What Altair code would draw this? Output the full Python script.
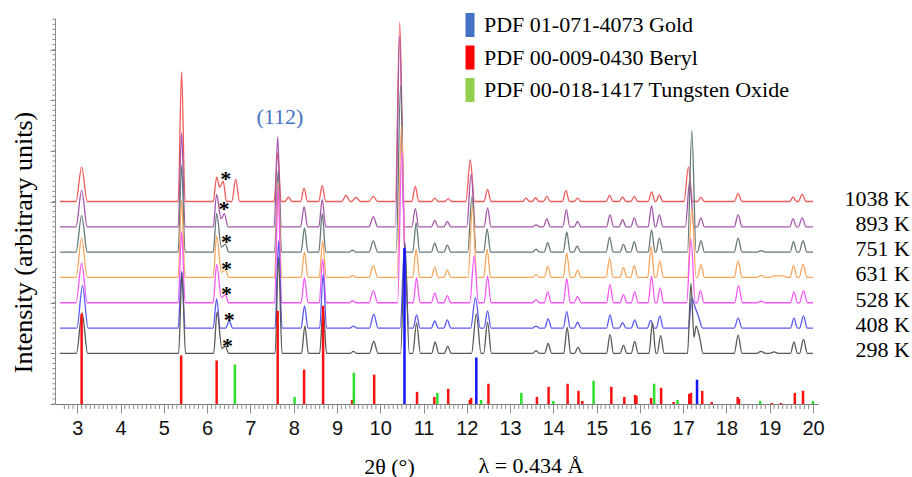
import altair as alt
import numpy as np
import pandas as pd

# ---- scan range / layout constants -------------------------------------
X_MIN, X_MAX = 2.6, 20.0
Y_MAX = 15250
HALF_WIDTH = 0.08          # default half base width of a peak (deg 2theta)

# ---- in-situ patterns: stacking offset, colour and peak list per temperature
TEMPS = ["1038 K", "893 K", "751 K", "631 K", "528 K", "408 K", "298 K"]
OFFSETS = [8000, 7000, 6000, 5000, 4000, 3000, 2000]
LINE_COLORS = ["#f15a5a", "#a457aa", "#667878", "#f6a65e", "#f658f6", "#5a5af2", "#585858"]

# [2theta, intensity above baseline, optional half width]
PEAKS_1038 = [
    [3.10, 1360, 0.13], [5.41, 5120], [6.22, 960], [6.29, 560], [6.37, 800], [6.66, 880, 0.09],
    [7.63, 1920], [7.88, 170], [8.24, 530], [8.66, 640], [9.21, 240, 0.1], [9.44, 160, 0.1],
    [9.84, 200, 0.1], [10.45, 7080, 0.1], [10.81, 600], [11.26, 130], [11.57, 110],
    [12.08, 1640, 0.1], [12.48, 480], [13.37, 130], [13.59, 150], [13.85, 200], [14.29, 440],
    [14.56, 130], [15.30, 240], [15.60, 170], [15.87, 200], [16.27, 380], [16.45, 260],
    [17.12, 1360, 0.1], [17.41, 160], [18.27, 310, 0.09], [19.54, 170], [19.75, 280, 0.09],
]
PEAKS_893 = [
    [3.10, 1440, 0.13], [5.41, 3720], [6.22, 1280], [6.32, 320], [6.40, 520], [7.63, 3560],
    [8.24, 800], [8.66, 1080], [9.84, 400, 0.1], [10.45, 7520, 0.1], [10.81, 720], [11.26, 250],
    [11.55, 210], [12.10, 2080, 0.1], [12.48, 750], [13.60, 80], [13.85, 310], [14.30, 680],
    [14.56, 210], [15.31, 480], [15.60, 280], [15.87, 350], [16.27, 840], [16.45, 480],
    [17.15, 1800, 0.1], [17.41, 350], [18.27, 480, 0.09], [19.54, 310], [19.75, 350, 0.09],
]
PEAKS_751 = [
    [3.10, 1440, 0.13], [5.41, 3440], [6.22, 1520], [6.33, 200], [6.42, 320], [7.64, 3200],
    [8.25, 960], [8.66, 1520], [9.36, 80], [9.84, 440, 0.1], [10.47, 6600, 0.1], [10.83, 1160],
    [11.26, 350], [11.55, 280], [12.12, 2200, 0.1], [12.47, 920], [13.60, 120], [13.87, 370],
    [14.31, 800], [14.55, 240], [15.30, 590], [15.62, 310], [15.87, 410], [16.27, 880],
    [16.45, 550], [17.20, 4800, 0.1], [17.41, 450], [18.27, 550, 0.09], [18.80, 60, 0.1],
    [19.55, 410], [19.77, 450, 0.09],
]
PEAKS_631 = [
    [3.10, 1560, 0.13], [5.41, 3040], [6.22, 1640], [6.33, 200], [6.42, 320], [7.64, 3800],
    [8.25, 1010], [8.67, 1440], [9.36, 80], [9.84, 480, 0.1], [10.49, 6000, 0.1], [10.83, 1120],
    [11.26, 410], [11.55, 290], [12.13, 2800, 0.1], [12.47, 1120], [13.60, 120], [13.87, 440],
    [14.31, 960], [14.56, 290], [15.30, 750], [15.62, 390], [15.87, 480], [16.26, 1230],
    [16.46, 650], [17.20, 2720, 0.1], [17.41, 520], [18.27, 650, 0.09], [18.80, 80, 0.1],
    [19.10, 60, 0.1], [19.30, 60, 0.1], [19.55, 480], [19.77, 520, 0.09],
]
PEAKS_528 = [
    [3.10, 1560, 0.13], [5.41, 2800], [6.22, 1520], [6.33, 200], [6.42, 320], [7.64, 4600],
    [8.25, 990], [8.67, 1720], [9.36, 80], [9.84, 480, 0.1], [10.50, 6000, 0.1], [10.84, 990],
    [11.26, 390], [11.55, 280], [12.17, 1840, 0.1], [12.48, 1050], [13.60, 120], [13.87, 440],
    [14.31, 950], [14.56, 250], [15.31, 720], [15.62, 320], [15.88, 440], [16.27, 1050],
    [16.47, 590], [17.18, 2520, 0.1], [17.40, 490], [18.28, 680, 0.09], [18.80, 60, 0.1],
    [19.56, 430], [19.78, 480, 0.09],
]
PEAKS_408 = [
    [3.12, 1680, 0.13], [5.41, 2240], [6.22, 1160], [6.51, 280], [7.65, 3440], [8.25, 880],
    [8.68, 2120], [9.38, 80], [9.85, 550, 0.1], [10.56, 3200, 0.1], [10.84, 520], [11.26, 280],
    [11.55, 320], [12.20, 1200, 0.11], [12.48, 680], [13.60, 80], [13.88, 360], [14.31, 650],
    [14.56, 230], [15.31, 520], [15.60, 210], [15.88, 320], [16.25, 300], [16.46, 480],
    [17.20, 1200], [17.27, 840], [17.35, 480, 0.1], [18.27, 390, 0.09], [19.56, 390],
    [19.78, 480, 0.09],
]
PEAKS_298 = [
    [3.11, 1600, 0.13], [5.42, 3200], [6.23, 1640], [6.34, 200], [6.42, 280], [7.65, 3800],
    [8.26, 1090], [8.68, 1800], [9.38, 80], [9.85, 480, 0.1], [10.57, 4400, 0.1],
    [10.84, 1200, 0.09], [11.27, 450], [11.56, 280], [12.22, 1560, 0.11], [12.48, 1230, 0.09],
    [13.60, 100], [13.88, 390], [14.32, 1030], [14.57, 250], [15.31, 750], [15.62, 320],
    [15.88, 470], [16.29, 1200], [16.48, 700], [17.18, 2760], [17.25, 630], [17.30, 1080],
    [17.38, 640], [18.27, 720, 0.09], [18.80, 80, 0.1], [19.10, 60, 0.1], [19.56, 450],
    [19.78, 550, 0.09],
]
PATTERNS = [PEAKS_1038, PEAKS_893, PEAKS_751, PEAKS_631, PEAKS_528, PEAKS_408, PEAKS_298]

# secondary-phase markers (asterisks) on each pattern
STAR_X = [6.43, 6.39, 6.45, 6.45, 6.45, 6.51, 6.47]
STAR_Y = [9080, 7890, 6610, 5530, 4530, 3520, 2500]

# ---- reference cards (stick patterns) ----------------------------------
PHASES = ["PDF 01-071-4073 Gold", "PDF 00-009-0430 Beryl", "PDF 00-018-1417 Tungsten Oxide"]
STICK_COLORS = ["#1414ff", "#ff1010", "#2ee02e"]
LEGEND_COLORS = ["#4472c4", "#ff0000", "#92d050"]

GOLD_POS = [10.56, 12.22, 17.32]
GOLD_INT = [6160, 1840, 960]
BERYL_POS = [3.10, 5.40, 6.22, 7.63, 8.24, 8.68, 9.35, 9.86, 10.85, 11.25, 11.57, 12.07,
             12.10, 12.50, 13.62, 13.89, 14.33, 14.58, 14.67, 15.34, 15.64, 15.89, 15.92,
             16.26, 16.49, 16.78, 17.14, 17.18, 17.44, 17.66, 18.26, 18.29, 19.05, 19.26,
             19.58, 19.77]
BERYL_INT = [3560, 1920, 1720, 3680, 1360, 3880, 160, 1160, 480, 280, 600, 160,
             240, 800, 280, 680, 800, 520, 120, 680, 280, 360, 320,
             240, 640, 80, 400, 440, 520, 80, 280, 200, 40, 40,
             440, 520]
WO3_POS = [6.64, 8.02, 9.39, 11.32, 12.33, 13.26, 14.00, 14.93, 16.33, 16.87, 18.78, 20.0]
WO3_INT = [1560, 280, 1240, 440, 160, 440, 120, 920, 800, 160, 120, 120]

X_TICKS = list(range(3, 21))
SERIF = "Liberation Serif"


def pattern_vertices(peaks, offset, label):
    """Apex/valley points of one pattern, with baseline feet where peaks are isolated."""
    pts = sorted((p[0], p[1], p[2] if len(p) > 2 else HALF_WIDTH) for p in peaks)
    xs, ys = [X_MIN], [offset]
    for i, (c, h, w) in enumerate(pts):
        if i == 0 or c - pts[i - 1][0] > w + pts[i - 1][2]:
            xs.append(c - w)
            ys.append(offset)
        xs.append(c)
        ys.append(offset + h)
        if i == len(pts) - 1 or pts[i + 1][0] - c > w + pts[i + 1][2]:
            xs.append(c + w)
            ys.append(offset)
    xs.append(X_MAX)
    ys.append(offset)
    return pd.DataFrame({"x": xs, "y": ys, "temp": label})


traces = pd.concat(
    [pattern_vertices(p, o, t) for p, o, t in zip(PATTERNS, OFFSETS, TEMPS)],
    ignore_index=True,
)
sticks = pd.concat(
    [
        pd.DataFrame({"x": GOLD_POS, "y": GOLD_INT, "phase": PHASES[0]}),
        pd.DataFrame({"x": BERYL_POS, "y": BERYL_INT, "phase": PHASES[1]}),
        pd.DataFrame({"x": WO3_POS, "y": WO3_INT, "phase": PHASES[2]}),
    ],
    ignore_index=True,
)
temp_labels = pd.DataFrame({"y": OFFSETS, "label": TEMPS})
stars = pd.DataFrame({"x": STAR_X, "y": STAR_Y, "label": "*"})
hkl = pd.DataFrame({"x": [7.68], "y": [11345], "label": ["(112)"]})
wavelength = pd.DataFrame({"label": ["λ = 0.434 Å"]})

minor_x = pd.DataFrame({"x": [v for v in np.round(np.arange(2.7, 20.0, 0.1), 1)
                              if abs(v - round(v)) > 1e-6]})
minor_y = pd.DataFrame({"y": np.arange(0, Y_MAX, 200)})

# ---- shared scales / axes ----------------------------------------------
x_axis = alt.Axis(
    values=X_TICKS, tickSize=9, tickColor="#8c8c8c", domainColor="#7a7a7a",
    labelFont="Liberation Sans", labelFontSize=20, labelColor="#111111", labelPadding=5,
    grid=False, title="2θ (°)", titleFont=SERIF, titleFontSize=22, titleFontWeight="normal",
    titleColor="#000000", titleX=334, titleY=62, titleBaseline="middle", titleAlign="center",
)
y_axis = alt.Axis(
    values=list(range(0, 15001, 1000)), tickSize=5, tickColor="#8c8c8c",
    domainColor="#8c8c8c", labels=False, grid=False,
    title="Intensity (arbitrary units)", titleFont=SERIF, titleFontSize=26,
    titleFontWeight="normal", titleColor="#000000", titleX=-32, titleY=224,
    titleAngle=270, titleBaseline="middle", titleAlign="center",
)
X = alt.X("x:Q", scale=alt.Scale(domain=[X_MIN, X_MAX], nice=False, zero=False), axis=x_axis)
Y = alt.Y("y:Q", scale=alt.Scale(domain=[0, Y_MAX], nice=False), axis=y_axis)

lines = alt.Chart(traces).mark_line(interpolate="monotone", strokeWidth=1.3).encode(
    x=X, y=Y,
    color=alt.Color("temp:N", scale=alt.Scale(domain=TEMPS, range=LINE_COLORS), legend=None),
    order=alt.Order("x:Q"),
)

stick_marks = alt.Chart(sticks).mark_rule(strokeWidth=2.5).encode(
    x=X, y=Y, y2=alt.datum(0),
    color=alt.Color("phase:N", scale=alt.Scale(domain=PHASES, range=STICK_COLORS), legend=None),
)

# zero-height bars that only carry the phase legend
legend_layer = alt.Chart(sticks).mark_bar(size=1).encode(
    x=X, y=alt.datum(0), y2=alt.datum(0),
    color=alt.Color(
        "phase:N",
        scale=alt.Scale(domain=PHASES, range=LEGEND_COLORS),
        legend=alt.Legend(
            title=None, orient="none", legendX=403, legendY=-5, padding=0,
            symbolType="M-0.375,-1H0.375V1H-0.375Z", symbolSize=576,
            symbolStrokeWidth=0, symbolOpacity=1, labelFont=SERIF, labelFontSize=22,
            labelColor="#000000", labelOffset=2, rowPadding=8.5, labelLimit=400,
        ),
    ),
)

minor_x_ticks = alt.Chart(minor_x).mark_rule(color="#8c8c8c", strokeWidth=1).encode(
    x=X, y=alt.value(386), y2=alt.value(391)
)
minor_y_ticks = alt.Chart(minor_y).mark_rule(color="#8c8c8c", strokeWidth=1).encode(
    y=Y, x=alt.value(-2.5), x2=alt.value(0)
)

temp_text = alt.Chart(temp_labels).mark_text(
    font=SERIF, fontSize=22, align="right", baseline="middle", dy=-3, color="#000000"
).encode(y=Y, x=alt.value(855), text="label:N")

star_text = alt.Chart(stars).mark_text(
    font=SERIF, fontSize=22, fontWeight="bold", baseline="middle", dy=5, color="#000000"
).encode(x=X, y=Y, text="label:N")

hkl_text = alt.Chart(hkl).mark_text(
    font=SERIF, fontSize=22, baseline="middle", color="#4472c4"
).encode(x=X, y=Y, text="label:N")

lambda_text = alt.Chart(wavelength).mark_text(
    font=SERIF, fontSize=22, baseline="middle", align="center", color="#000000"
).encode(x=alt.value(476), y=alt.value(448), text="label:N")

chart = (
    alt.layer(minor_x_ticks, minor_y_ticks, lines, stick_marks, legend_layer,
              temp_text, star_text, hkl_text, lambda_text)
    .resolve_scale(color="independent")
    .properties(
        width=763, height=386, autosize="none",
        padding={"left": 55, "top": 18, "right": 94, "bottom": 73},
        background="#ffffff",
    )
    .configure_view(stroke=None)
)

chart.save("out.html", embed_options={"renderer": "svg", "actions": False})
